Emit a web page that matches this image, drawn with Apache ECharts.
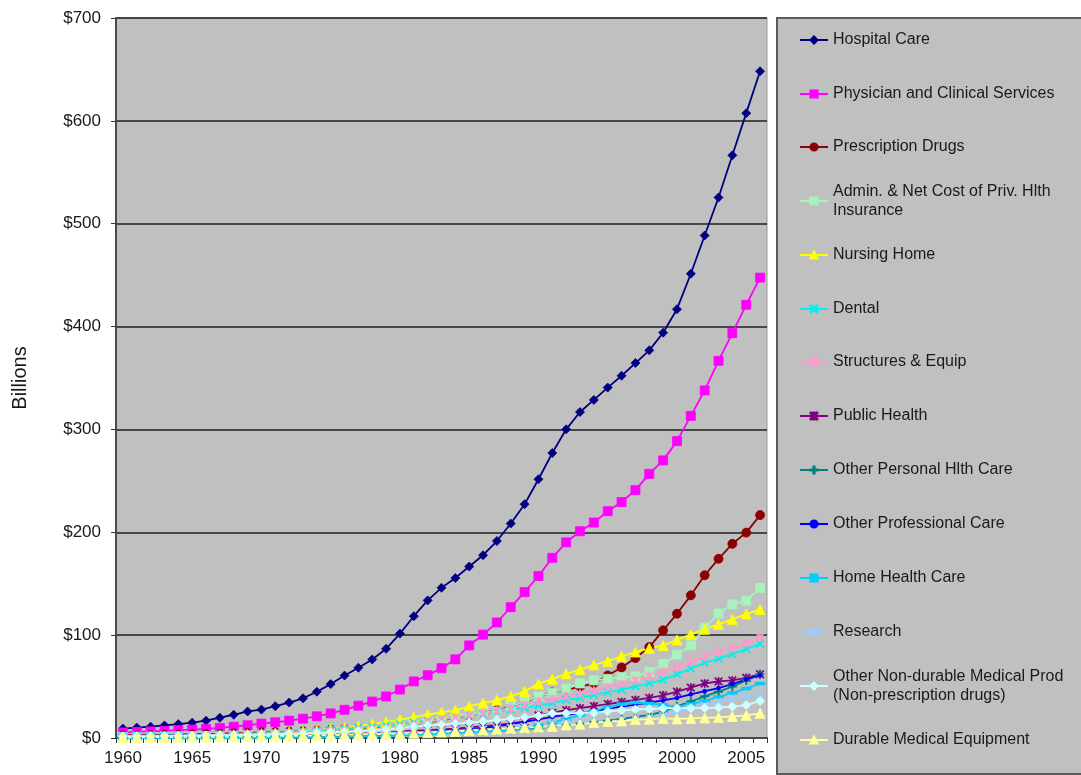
<!DOCTYPE html>
<html>
<head>
<meta charset="utf-8">
<title>National Health Expenditures by Type</title>
<script src="https://cdn.jsdelivr.net/npm/echarts@6/dist/echarts.min.js"></script>
<style>
  html, body { margin: 0; padding: 0; background: #ffffff; }
  #chart { width: 1081px; height: 775px; }
</style>
</head>
<body>
<div id="chart"></div>
<script>
// Years 1960–2006
const years = [];
for (let y = 1960; y <= 2006; y++) years.push(String(y));

// Spending by category, billions of dollars (1960 … 2006)
const hospitalCare = [9.2,10.1,11.0,12.2,13.5,14.9,16.8,19.7,22.6,25.8,
  27.6,30.9,34.5,38.6,45.0,52.4,60.7,68.3,76.4,86.7,
  101.5,118.4,133.8,146.0,155.5,166.7,177.7,191.5,208.5,227.3,
  251.6,277.1,300.1,316.9,328.7,340.7,352.2,364.5,376.9,394.0,
  416.9,451.4,488.5,525.5,566.5,607.5,648.2];
const physicianServices = [5.4,5.9,6.4,7.0,7.6,8.2,8.9,9.8,11.0,12.4,
  14.0,15.3,16.9,18.8,21.1,23.9,27.4,31.4,35.4,40.4,
  47.1,55.0,61.0,67.9,76.5,90.0,100.5,112.3,127.2,141.8,
  157.5,175.2,190.2,201.0,209.5,220.5,229.4,241.0,256.8,269.9,
  288.6,313.2,337.9,366.7,393.6,421.2,447.6];
const prescriptionDrugs = [2.7,2.7,2.9,3.1,3.3,3.7,3.9,4.2,4.6,5.0,
  5.5,5.8,6.2,6.6,7.2,8.1,8.7,9.2,9.9,10.7,
  12.0,13.4,15.0,17.3,19.6,21.8,24.3,26.9,30.6,34.8,
  40.3,44.4,47.0,49.6,53.0,60.8,68.5,77.7,88.4,104.7,
  120.8,138.7,158.2,174.2,188.8,199.7,216.7];
const adminInsurance = [1.2,1.3,1.4,1.5,1.7,1.9,1.9,2.0,2.2,2.4,
  2.8,3.1,3.6,4.2,4.5,4.9,6.1,7.5,8.5,9.9,
  12.1,14.0,15.9,18.1,21.5,24.2,24.3,25.6,30.4,35.5,
  40.5,44.0,48.0,53.0,56.0,57.5,59.0,60.0,64.0,72.0,
  81.0,90.0,107.0,121.0,130.0,133.5,146.0];
const nursingHome = [0.8,0.9,1.0,1.1,1.3,1.5,2.0,2.6,3.1,3.6,
  4.2,4.9,5.8,6.6,7.6,8.7,10.0,11.7,13.6,15.6,
  17.7,20.4,22.7,24.9,26.9,30.7,33.9,36.9,40.4,45.3,
  52.6,57.2,62.3,66.4,71.1,74.6,79.4,83.6,87.3,90.0,
  95.3,100.7,105.8,110.5,115.3,120.5,124.9];
const dental = [2.0,2.1,2.3,2.5,2.7,2.8,3.0,3.4,3.7,4.2,
  4.7,5.0,5.5,6.1,6.8,8.0,8.9,9.9,10.9,12.0,
  13.3,15.1,16.8,18.5,19.7,21.7,23.2,25.6,27.9,29.5,
  31.5,34.0,37.0,39.1,41.9,44.5,46.8,50.2,53.2,56.4,
  62.0,67.5,73.3,76.9,81.5,86.6,91.5];
const structuresEquip = [1.0,1.2,1.4,1.6,1.8,2.0,2.4,2.8,3.2,3.6,
  4.0,4.4,4.8,5.3,5.8,6.4,7.0,7.8,8.6,9.6,
  11.0,13.0,15.5,18.0,20.0,22.5,24.5,26.5,29.0,32.0,
  35.5,38.0,40.5,43.0,46.0,49.0,52.5,56.0,60.0,64.5,
  69.0,74.0,79.0,83.5,87.5,92.0,98.0];
const publicHealth = [0.4,0.4,0.5,0.5,0.6,0.6,0.7,0.8,1.0,1.2,
  1.4,1.6,1.9,2.2,2.6,3.0,3.5,4.0,4.6,5.2,
  6.4,7.1,7.7,8.3,9.2,10.4,11.5,12.5,14.2,16.0,
  22.0,24.5,27.0,29.0,31.0,33.0,35.0,37.0,39.0,41.5,
  45.0,49.0,53.0,55.0,56.0,58.5,62.0];
const otherPersonal = [0.7,0.7,0.7,0.8,0.8,0.8,0.9,1.0,1.1,1.2,
  1.3,1.5,1.6,1.8,2.0,2.2,2.4,2.6,2.8,3.0,
  3.3,3.8,4.3,4.8,5.3,5.9,6.5,7.2,8.0,8.8,
  9.6,11.0,12.5,14.0,15.5,16.8,18.5,20.5,22.5,25.5,
  31.0,35.5,40.5,45.0,50.0,56.0,62.0];
const otherProfessional = [0.4,0.4,0.5,0.5,0.6,0.7,0.8,0.9,1.1,1.3,
  1.5,1.7,1.9,2.2,2.5,2.9,3.2,3.5,3.8,4.2,
  4.6,5.3,6.0,6.8,7.8,8.6,9.8,11.3,13.5,15.8,
  18.2,20.5,22.5,24.0,25.5,28.6,30.5,32.5,34.5,36.5,
  39.0,42.5,45.5,48.5,52.5,57.0,61.0];
const homeHealth = [0.1,0.1,0.1,0.1,0.1,0.1,0.1,0.1,0.2,0.2,
  0.2,0.2,0.3,0.4,0.5,0.6,0.9,1.1,1.5,1.9,
  2.4,3.0,3.6,4.4,5.0,5.6,6.2,6.6,7.3,9.0,
  12.6,15.0,18.5,22.0,26.0,30.5,32.8,34.5,33.6,32.3,
  30.5,33.0,36.0,40.0,43.9,48.1,53.0];
const research = [0.7,0.8,1.0,1.1,1.3,1.4,1.5,1.6,1.7,1.8,
  2.0,2.1,2.2,2.4,2.6,3.3,3.5,3.8,4.2,4.8,
  5.4,5.7,5.9,6.4,7.1,7.8,8.4,9.2,10.0,11.0,
  12.7,13.6,14.5,15.0,15.7,16.7,17.1,18.0,19.9,21.8,
  25.5,28.5,31.6,35.0,38.5,40.5,43.0];
const otherNonDurable = [1.6,1.7,1.8,1.9,2.1,2.3,2.5,2.7,2.9,3.2,
  3.5,3.8,4.1,4.5,5.0,5.6,6.1,6.7,7.4,8.3,
  9.5,11.0,12.2,13.0,14.0,15.0,16.0,17.3,18.5,20.0,
  21.4,24.0,24.0,24.2,24.6,26.0,27.0,27.8,28.2,28.8,
  29.0,29.0,29.2,29.6,30.5,32.0,36.0];
const durableEquip = [0.7,0.7,0.8,0.8,0.9,1.0,1.1,1.2,1.3,1.5,
  1.7,1.9,2.1,2.3,2.5,2.8,3.1,3.3,3.6,4.0,
  4.1,4.6,5.2,5.8,6.4,7.1,7.8,8.6,9.4,10.0,
  10.6,11.3,12.6,13.3,15.0,16.0,16.5,18.0,18.3,19.0,
  18.5,19.0,19.5,20.0,21.0,22.0,24.0];

// Value-axis ticks
const yTicks = [0, 100, 200, 300, 400, 500, 600, 700];

// Marker shapes not built into ECharts
const X_MARK = 'path://M1,0 L5,4 L9,0 L10,1 L6,5 L10,9 L9,10 L5,6 L1,10 L0,9 L4,5 L0,1 Z';
const PLUS_MARK = 'path://M4.2,0 H5.8 V4.2 H10 V5.8 H5.8 V10 H4.2 V5.8 H0 V4.2 H4.2 Z';
const STAR_MARK = 'path://M1,0 L5,4 L9,0 L10,1 L6,5 L10,9 L9,10 L5,6 L1,10 L0,9 L4,5 L0,1 Z M4.3,0 H5.7 V10 H4.3 Z';

const seriesDefs = [
  { name: 'Hospital Care', data: hospitalCare, color: '#000080', symbol: 'diamond', size: 9 },
  { name: 'Physician and Clinical Services', data: physicianServices, color: '#FF00FF', symbol: 'rect', size: 9 },
  { name: 'Prescription Drugs', data: prescriptionDrugs, color: '#8B0000', symbol: 'circle', size: 9 },
  { name: 'Admin. & Net Cost of Priv. Hlth Insurance', label: 'Admin. & Net Cost of Priv. Hlth\nInsurance', data: adminInsurance, color: '#A8F2BE', symbol: 'rect', size: 9 },
  { name: 'Nursing Home', data: nursingHome, color: '#FFFF00', symbol: 'triangle', size: 10 },
  { name: 'Dental', data: dental, color: '#00F0F0', symbol: X_MARK, size: 8 },
  { name: 'Structures & Equip', data: structuresEquip, color: '#FF99CC', symbol: STAR_MARK, size: 8 },
  { name: 'Public Health', data: publicHealth, color: '#800080', symbol: STAR_MARK, size: 8 },
  { name: 'Other Personal Hlth Care', data: otherPersonal, color: '#008080', symbol: PLUS_MARK, size: 8 },
  { name: 'Other Professional Care', data: otherProfessional, color: '#0000FF', symbol: 'circle', size: 4 },
  { name: 'Home Health Care', data: homeHealth, color: '#00CCFF', symbol: 'rect', size: [9, 3] },
  { name: 'Research', data: research, color: '#99CCFF', symbol: X_MARK, size: 8 },
  { name: 'Other Non-durable Medical Prod (Non-prescription drugs)', label: 'Other Non-durable Medical Prod\n(Non-prescription drugs)', data: otherNonDurable, color: '#CCFFFF', symbol: 'diamond', size: 9 },
  { name: 'Durable Medical Equipment', data: durableEquip, color: '#FFFF99', symbol: 'triangle', size: 10 }
];

const FONT = '"Liberation Sans", Arial, Helvetica, sans-serif';

// Legend rows: vertical centre of each entry's first text line
const legendRowY = [40, 94, 147, 201, 255, 309, 362, 416, 470, 524, 578, 632, 686, 740];

const legends = seriesDefs.map((s, i) => {
  const twoLine = !!s.label;
  return {
    data: [s.name],
    orient: 'vertical',
    left: 799,
    top: legendRowY[i] - (twoLine ? 28.5 : 9.5),
    padding: 0,
    itemWidth: 28,
    itemHeight: 9,
    itemGap: 0,
    selectedMode: false,
    formatter: () => s.label || s.name,
    textStyle: {
      fontFamily: FONT,
      fontSize: 16,
      color: '#1a1a1a',
      lineHeight: 19,
      padding: twoLine ? [19, 0, 0, 0] : 0
    }
  };
});

const chart = echarts.init(document.getElementById('chart'), null, { renderer: 'canvas' });

chart.setOption({
  backgroundColor: '#ffffff',
  animation: false,
  graphic: [{
    type: 'rect',
    left: 776,
    top: 17,
    shape: { x: 0, y: 0, width: 320, height: 756 },
    style: { fill: '#C0C0C0', stroke: '#5a5a5a', lineWidth: 2 },
    z: -10
  }],
  legend: legends,
  grid: {
    left: 116,
    right: 314,
    top: 18,
    bottom: 37,
    show: true,
    backgroundColor: '#C0C0C0',
    borderColor: '#9a9a9a',
    borderWidth: 1
  },
  xAxis: {
    type: 'category',
    data: years,
    boundaryGap: true,
    axisLine: { lineStyle: { color: '#4a4a4a', width: 2 } },
    axisTick: { show: true, interval: 0, length: 5, lineStyle: { color: '#333', width: 1 } },
    axisLabel: {
      interval: 0,
      formatter: (v) => (Number(v) % 5 === 0 ? v : ''),
      fontFamily: FONT,
      fontSize: 17,
      color: '#1a1a1a',
      margin: 12
    },
    splitLine: { show: false }
  },
  yAxis: {
    type: 'value',
    min: yTicks[0],
    max: yTicks[yTicks.length - 1],
    interval: 100,
    name: 'Billions',
    nameLocation: 'middle',
    nameGap: 86,
    nameRotate: 90,
    nameTextStyle: { fontFamily: FONT, fontSize: 20, color: '#1a1a1a' },
    axisLine: { show: true, lineStyle: { color: '#4a4a4a', width: 2 } },
    axisTick: { show: true, length: 5, lineStyle: { color: '#333', width: 1 } },
    axisLabel: {
      formatter: (v) => '$' + v,
      fontFamily: FONT,
      fontSize: 17,
      color: '#1a1a1a',
      margin: 15
    },
    splitLine: { show: true, lineStyle: { color: '#1f1f1f', width: 1.6 } }
  },
  series: seriesDefs.map((s) => ({
    name: s.name,
    type: 'line',
    data: s.data,
    symbol: s.symbol,
    symbolSize: s.size,
    showAllSymbol: true,
    lineStyle: { color: s.color, width: 1.8 },
    itemStyle: { color: s.color, borderColor: s.color, borderWidth: 0.8 },
    emphasis: { disabled: true }
  }))
});
</script>
</body>
</html>
